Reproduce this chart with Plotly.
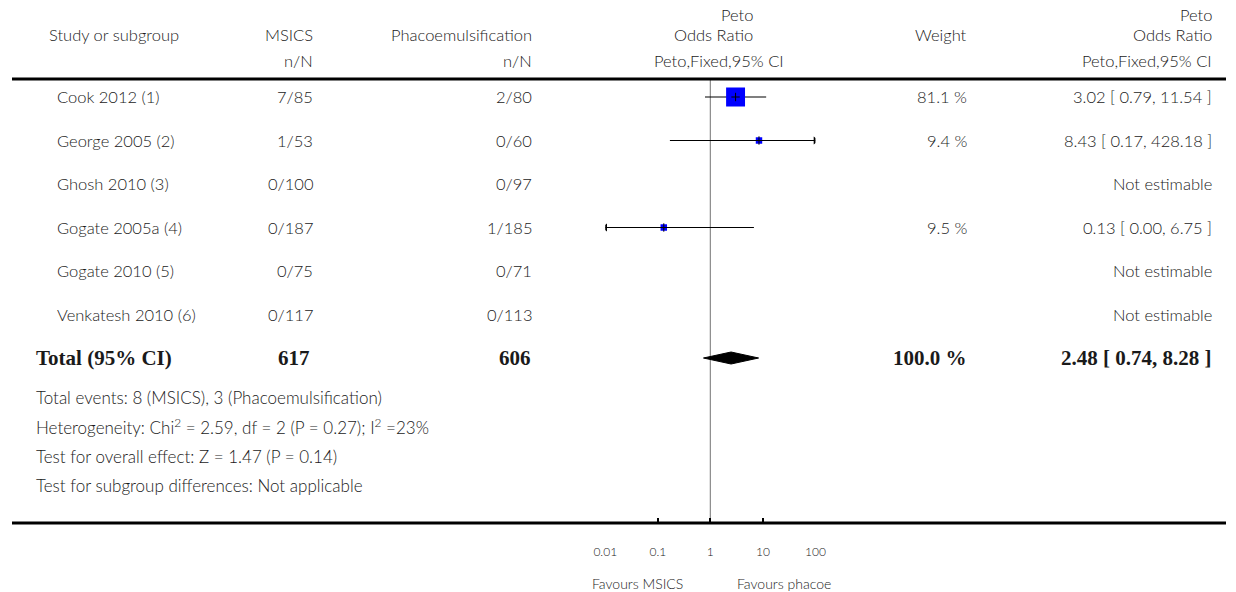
import plotly.graph_objects as go

# ---------------- data ----------------
studies = ["Cook 2012 (1)", "George 2005 (2)", "Ghosh 2010 (3)",
           "Gogate 2005a (4)", "Gogate 2010 (5)", "Venkatesh 2010 (6)"]
msics_events = [7, 1, 0, 0, 0, 0]
msics_total = [85, 53, 100, 187, 75, 117]
phaco_events = [2, 0, 0, 1, 0, 0]
phaco_total = [80, 60, 97, 185, 71, 113]
odds_ratio = [3.02, 8.43, None, 0.13, None, None]
ci_lower = [0.79, 0.17, None, 0.00, None, None]
ci_upper = [11.54, 428.18, None, 6.75, None, None]
weights = [81.1, 9.4, None, 9.5, None, None]

total_label = "Total (95% CI)"
total_msics = 617
total_phaco = 606
total_or = 2.48
total_lower = 0.74
total_upper = 8.28
total_weight = 100.0

footnotes = [
    "Total events: 8 (MSICS), 3 (Phacoemulsification)",
    "Heterogeneity: Chi<sup>2</sup> = 2.59, df = 2 (P = 0.27); I<sup>2</sup> =23%",
    "Test for overall effect: Z = 1.47 (P = 0.14)",
    "Test for subgroup differences: Not applicable",
]
tick_values = [0.01, 0.1, 1, 10, 100]
tick_labels = ["0.01", "0.1", "1", "10", "100"]
favours_left = "Favours MSICS"
favours_right = "Favours phacoe"

# ---------------- layout helpers ----------------
W, H = 1236, 592
ROW0, ROWSTEP = 97, 43.5
AXIS_MIN, AXIS_MAX = 0.01, 100


def px(x):
    return x / W


def py(y):
    return 1 - y / H


def row_of(ypix):
    return (ypix - ROW0) / ROWSTEP


SANS = "Lato, 'Open Sans', sans-serif"
SERIF = "'Liberation Serif', 'DejaVu Serif', serif"
TXT = "#1a1a1a"
BODY = 16.5
LIGHT = 300

fig = go.Figure()
ann = []


def text(x, y, s, anchor="left", size=BODY, family=SANS, yref="paper", bold=False):
    ann.append(dict(
        x=px(x), xref="paper", y=y, yref=yref, text=s,
        showarrow=False, xanchor=anchor, yanchor="middle", align=anchor,
        font=dict(family=family, size=size, color=TXT,
                  weight=(700 if bold else LIGHT)),
    ))


# header
text(36, py(35), "Study or subgroup")
text(308, py(35), "MSICS", "right")
text(308, py(61), "n/N", "right")
text(531, py(35), "Phacoemulsification", "right")
text(531, py(61), "n/N", "right")
text(756, py(15), "Peto", "right")
text(756, py(35), "Odds Ratio", "right")
text(720, py(61), "Peto,Fixed,95% CI", "center")
text(974, py(35), "Weight", "right")
text(1224, py(15), "Peto", "right")
text(1224, py(35), "Odds Ratio", "right")
text(1224, py(61), "Peto,Fixed,95% CI", "right")

# study rows
for i, name in enumerate(studies):
    text(44, i, name, yref="y")
    text(308, i, f"{msics_events[i]}/{msics_total[i]}", "right", yref="y")
    text(531, i, f"{phaco_events[i]}/{phaco_total[i]}", "right", yref="y")
    if odds_ratio[i] is not None:
        text(974, i, f"{weights[i]:.1f} %", "right", yref="y")
        text(1224, i, f"{odds_ratio[i]:.2f} [ {ci_lower[i]:.2f}, {ci_upper[i]:.2f} ]", "right", yref="y")
    else:
        text(1224, i, "Not estimable", "right", yref="y")

# total row
ti = len(studies)
BOLD = 21
text(22, ti, total_label, yref="y", size=BOLD, family=SERIF, bold=True)
text(305, ti, f"{total_msics}", "right", yref="y", size=BOLD, family=SERIF, bold=True)
text(530, ti, f"{total_phaco}", "right", yref="y", size=BOLD, family=SERIF, bold=True)
text(974, ti, f"{total_weight:.1f} %", "right", yref="y", size=BOLD, family=SERIF, bold=True)
text(1224, ti, f"{total_or:.2f} [ {total_lower:.2f}, {total_upper:.2f} ]", "right",
     yref="y", size=BOLD, family=SERIF, bold=True)

# footnotes
for k, s in enumerate(footnotes):
    text(22, py(397 + 29.5 * k), s, size=17)

# favours labels
text(637, py(583), favours_left, "center", size=14)
text(786, py(583), favours_right, "center", size=14)

# ---------------- forest marks ----------------
# null line
fig.add_trace(go.Scatter(x=[1, 1], y=[row_of(79), row_of(523)], mode="lines",
                         line=dict(color="#8a8a8a", width=1.2), hoverinfo="skip"))

for i in range(len(studies)):
    if odds_ratio[i] is None:
        continue
    lo = max(ci_lower[i], AXIS_MIN)
    hi = min(ci_upper[i], AXIS_MAX)
    fig.add_trace(go.Scatter(x=[lo, hi], y=[i, i], mode="lines",
                             line=dict(color="black", width=1.2), hoverinfo="skip"))
    if ci_lower[i] < AXIS_MIN:
        fig.add_trace(go.Scatter(x=[AXIS_MIN], y=[i], mode="markers",
                                 marker=dict(symbol="triangle-left", size=7, color="black"),
                                 hoverinfo="skip"))
    if ci_upper[i] > AXIS_MAX:
        fig.add_trace(go.Scatter(x=[AXIS_MAX], y=[i], mode="markers",
                                 marker=dict(symbol="triangle-right", size=7, color="black"),
                                 hoverinfo="skip"))
    size = 2.1 * weights[i] ** 0.5
    fig.add_trace(go.Scatter(x=[odds_ratio[i]], y=[i], mode="markers",
                             marker=dict(symbol="square", size=size, color="#0000ff",
                                         line=dict(width=0)), hoverinfo="skip"))
    fig.add_trace(go.Scatter(x=[odds_ratio[i]], y=[i], mode="markers",
                             marker=dict(symbol="cross-thin", size=6,
                                         line=dict(color="black", width=1)), hoverinfo="skip"))

# diamond
dh = 6 / ROWSTEP
fig.add_trace(go.Scatter(
    x=[total_lower, total_or, total_upper, total_or, total_lower],
    y=[ti, ti - dh, ti, ti + dh, ti], mode="lines", fill="toself",
    fillcolor="black", line=dict(color="black", width=1), hoverinfo="skip"))

# horizontal rules
shapes = [
    dict(type="line", xref="paper", yref="paper", x0=0, x1=1, y0=py(79), y1=py(79),
         line=dict(color="black", width=3)),
    dict(type="line", xref="paper", yref="paper", x0=0, x1=1, y0=py(523), y1=py(523),
         line=dict(color="black", width=3)),
]

fig.update_layout(
    width=W, height=H, margin=dict(l=0, r=0, t=0, b=0),
    paper_bgcolor="white", plot_bgcolor="white", showlegend=False,
    annotations=ann, shapes=shapes,
    xaxis=dict(type="log", range=[-2, 2], domain=[px(604), px(818)],
               anchor="free", position=py(523), showgrid=False, zeroline=False,
               showline=False, ticks="inside", ticklen=5, tickwidth=2, tickcolor="black",
               tickvals=tick_values, ticktext=tick_labels, ticklabelstandoff=20,
               tickfont=dict(family=SANS, size=12, color=TXT, weight=LIGHT)),
    yaxis=dict(range=[row_of(H), row_of(0)], domain=[0, 1], visible=False,
               showgrid=False, zeroline=False),
)

fig.write_html("out.html", post_script="document.body.style.margin='0';")
